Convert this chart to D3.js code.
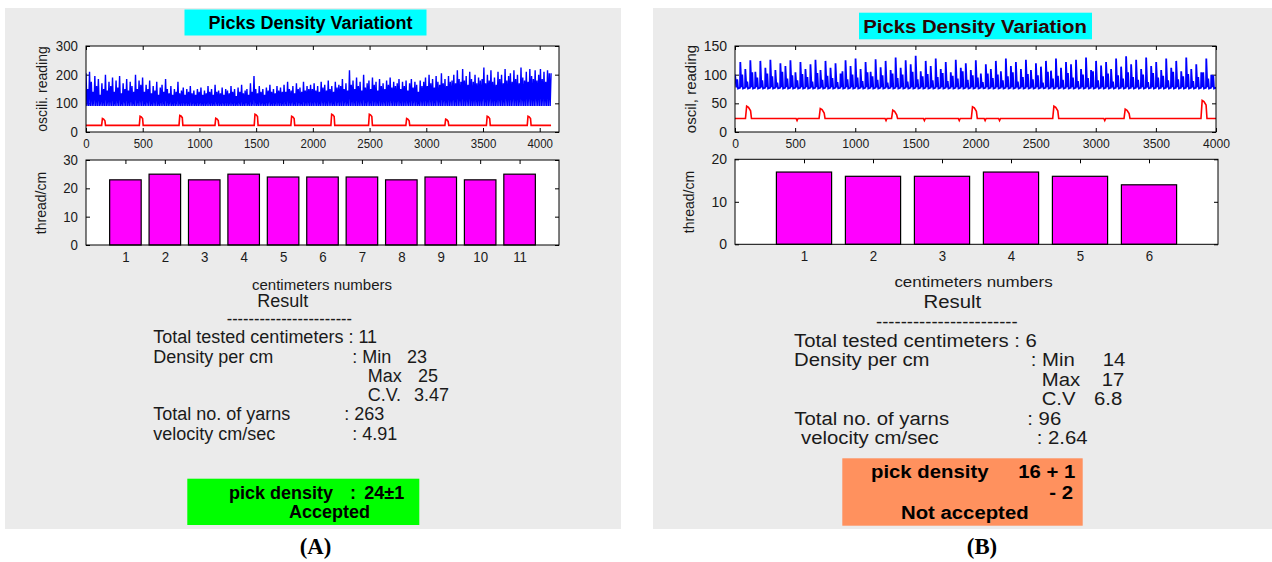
<!DOCTYPE html>
<html>
<head>
<meta charset="utf-8">
<script src="https://cdn.jsdelivr.net/npm/d3@7/dist/d3.min.js"></script>
<style>
  html, body { margin: 0; padding: 0; background: #ffffff; }
  svg { display: block; font-family: "Liberation Sans", Arial, Helvetica, sans-serif; }
</style>
</head>
<body>
<svg id="chart" width="1272" height="562"></svg>
<script>
// ---------------- DATA ----------------
const panelLabels = ["(A)", "(B)"];
const titles = ["Picks Density Variationt", "Picks Density Variation"];

// oscilloscope x ticks
const oscXTicks = [0, 500, 1000, 1500, 2000, 2500, 3000, 3500, 4000];
const oscYTicksA = [0, 100, 200, 300];
const oscYTicksB = [0, 50, 100, 150];
const oscYLabels = ["oscili. reading", "oscil, reading"];

// blue signal (A): peak reading of each yarn pulse (263 yarns)
const bluePeaksA = [
  205,150,210,175,140,195,160,185,130,170,150,200,145,175,160,190,
  140,180,155,195,135,170,150,185,145,175,160,140,200,150,180,165,
  190,140,165,150,180,135,160,145,175,130,155,165,140,185,150,135,
  160,130,150,140,175,135,145,155,130,150,140,160,135,145,130,150,
  140,155,130,145,135,160,140,150,130,165,140,145,135,155,130,150,
  145,135,160,140,150,125,155,140,165,135,145,150,130,170,140,195,
  150,135,160,140,150,130,155,145,165,140,150,135,160,145,155,140,
  165,140,175,150,145,160,135,170,150,155,140,175,145,160,150,165,
  150,170,145,160,140,175,155,165,145,180,150,160,140,175,155,165,
  160,185,150,170,145,215,165,180,150,190,160,175,145,200,155,170,
  180,150,190,165,175,145,185,160,170,150,180,165,190,155,175,160,
  170,185,150,175,160,180,145,170,185,155,175,165,140,180,160,175,
  190,160,200,170,185,155,195,175,165,205,170,185,160,195,175,180,
  200,170,215,185,175,220,180,195,165,210,185,175,200,170,190,180,
  185,225,170,200,180,215,175,190,165,210,185,200,170,220,180,195,
  205,175,215,185,200,170,225,190,180,210,175,220,195,185,215,180,
  200,220,185,210,175,215,205
];
const blueBaseA = 91;
const signalEndA = 4100;

// blue signal (B): main peak and secondary bump of each yarn pulse (96 yarns)
const bluePeaksB = [
  100,122,110,125,105,124,112,126,108,120,115,125,104,122,110,118,
  126,108,124,112,120,102,125,115,128,110,122,105,127,113,124,108,
  130,112,125,118,133,106,124,115,128,110,122,104,126,112,120,108,
  125,102,118,110,124,106,128,115,122,110,126,108,120,114,124,107,
  128,112,122,118,126,110,130,108,124,116,122,110,128,114,132,118,
  126,110,130,115,122,108,128,112,124,106,130,110,118,104,128,100
];
const blueMidB = [
  92,100,88,104,95,90,102,97,86,105,93,99,90,101,96,88,
  103,91,98,94,87,106,92,100,95,89,104,97,91,99,86,102,
  94,100,88,105,92,97,101,90,96,103,89,98,93,106,91,99,
  95,87,102,94,100,90,97,104,88,96,101,92,99,86,105,93,
  98,91,103,95,89,100,94,106,90,97,102,88,99,93,104,96,
  91,100,87,103,95,98,90,105,92,97,101,89,96,104,93,99
];
const blueBaseB = 76;
const signalEndB = 4000;

// red signal: centimetre marker pulses
const redPulseXA = [155, 487, 837, 1154, 1500, 1823, 2176, 2508, 2837, 3181, 3547, 3907];
const redPulseYA = [47, 55, 58, 48, 62, 55, 62, 62, 47, 45, 55, 55];
const redBaseA = 23;
const redPulseXB = [112, 724, 1327, 1990, 2667, 3260, 3900];
const redPulseYB = [45, 41, 38, 44, 45, 40, 55];
const redDipXB = [516, 1256, 1575, 1865, 2080, 2200, 3075];
const redDipYB = [20, 20, 20, 20, 20, 20, 20];
const redBaseB = 23.5;

// bar charts: threads per centimetre
const barCatsA = [1, 2, 3, 4, 5, 6, 7, 8, 9, 10, 11];
const barValsA = [23, 25, 23, 25, 24, 24, 24, 23, 24, 23, 25];
const barYTicksA = [0, 10, 20, 30];
const barCatsB = [1, 2, 3, 4, 5, 6];
const barValsB = [17, 16, 16, 17, 16, 14];
const barYTicksB = [0, 10, 20];
const barYLabel = "thread/cm";
const barXLabel = "centimeters numbers";

// result texts
const resultTitle = "Result";
const statLabels = ["Total tested centimeters", "Density per cm", "Total no. of yarns", "velocity cm/sec"];
const statValuesA = ["11", "23", "25", "3.47", "263", "4.91"];
const statValuesB = ["6", "14", "17", "6.8", "96", "2.64"];
const cvLabels = ["C.V.", "C.V"];
const verdictA = ["pick density", ":", "24\u00b11", "Accepted"];
const verdictB = ["pick density", "16 + 1", "- 2", "Not accepted"];

// ---------------- DRAW ----------------
const svg = d3.select("#chart");
const FONT = '"Liberation Sans", Arial, Helvetica, sans-serif';

function txt(g, x, y, s, o = {}) {
  const t = g.append("text")
    .attr("transform", `translate(${x},${y})${o.rot ? ` rotate(${o.rot})` : ""} scale(${o.sx || 1},1)`)
    .attr("dy", "0.35em")
    .attr("text-anchor", o.anchor || "start")
    .style("font-size", (o.size || 18) + "px")
    .style("font-weight", o.weight || "normal")
    .style("font-family", o.family || FONT)
    .attr("fill", o.fill || "#1a1a1a")
    .text(s);
  if (o.len) t.attr("textLength", o.len).attr("lengthAdjust", "spacingAndGlyphs");
  return t;
}

// frame with inward ticks on all 4 sides
function frame(g, x, y, xTicks, yTicks, opt) {
  const [x0, x1] = x.range();
  const [y0, y1] = y.range(); // y0 bottom, y1 top
  g.append("rect").attr("x", x0).attr("y", y1).attr("width", x1 - x0).attr("height", y0 - y1)
    .attr("fill", "#ffffff");
  const ax = (sel) => {
    sel.select(".domain").remove();
    sel.selectAll(".tick line").attr("stroke", "#000").attr("stroke-width", 1);
  };
  const bx = g.append("g").attr("transform", `translate(0,${y0})`)
    .call(d3.axisBottom(x).tickValues(xTicks).tickSize(-4).tickPadding(opt.xPad || 6).tickFormat(d3.format("d")));
  ax(bx);
  bx.selectAll(".tick text").attr("fill", "#1a1a1a").style("font-size", opt.xFont + "px")
    .style("font-family", FONT).attr("transform", `scale(${opt.xSx},1)`);
  const tx = g.append("g").attr("transform", `translate(0,${y1})`)
    .call(d3.axisTop(x).tickValues(xTicks).tickSize(-4).tickFormat(""));
  ax(tx);
  const ly = g.append("g").attr("transform", `translate(${x0},0)`)
    .call(d3.axisLeft(y).tickValues(yTicks).tickSize(-4).tickPadding(8).tickFormat(d3.format("d")));
  ax(ly);
  ly.selectAll(".tick text").attr("fill", "#1a1a1a").style("font-size", opt.yFont + "px")
    .style("font-family", FONT).attr("x", -8 / opt.ySx).attr("transform", `scale(${opt.ySx},1)`);
  const ry = g.append("g").attr("transform", `translate(${x1},0)`)
    .call(d3.axisRight(y).tickValues(yTicks).tickSize(-4).tickFormat(""));
  ax(ry);
}

function frameBorder(g, x, y) {
  const [x0, x1] = x.range();
  const [y0, y1] = y.range();
  g.append("rect").attr("x", x0).attr("y", y1).attr("width", x1 - x0).attr("height", y0 - y1)
    .attr("fill", "none").attr("stroke", "#000").attr("stroke-width", 1);
}

function pulsePoints(xs, ys, base, end, w, dipX, dipY) {
  const ev = [];
  xs.forEach((px, i) => ev.push({ x: px, kind: "p", v: ys[i] }));
  (dipX || []).forEach((px, i) => ev.push({ x: px, kind: "d", v: dipY[i] }));
  ev.sort((a, b) => a.x - b.x);
  const pts = [[0, base]];
  ev.forEach(e => {
    if (e.kind === "p") {
      pts.push([e.x - w * 0.5, base], [e.x - w * 0.3, e.v], [e.x, e.v - 2], [e.x + w * 0.35, e.v - 8], [e.x + w * 0.5, base]);
    } else {
      pts.push([e.x - 8, base], [e.x, e.v], [e.x + 8, base]);
    }
  });
  pts.push([end, base]);
  return pts;
}

function drawPanel(cfg) {
  const g = svg.append("g");
  // grey panel
  g.append("rect").attr("x", cfg.bg[0]).attr("y", cfg.bg[1]).attr("width", cfg.bg[2] - cfg.bg[0])
    .attr("height", cfg.bg[3] - cfg.bg[1]).attr("fill", "#ebebeb");
  // title box
  g.append("rect").attr("x", cfg.titleBox[0]).attr("y", cfg.titleBox[1])
    .attr("width", cfg.titleBox[2] - cfg.titleBox[0]).attr("height", cfg.titleBox[3] - cfg.titleBox[1])
    .attr("fill", "#00ffff");
  txt(g, cfg.titlePos[0], cfg.titlePos[1], cfg.title,
      { size: 18, weight: "bold", anchor: "middle", sx: cfg.sx, fill: cfg.titleFill });

  // oscilloscope plot
  const xo = d3.scaleLinear().domain([0, cfg.oscXMax]).range(cfg.oscX);
  const yo = d3.scaleLinear().domain([0, cfg.oscYTicks[cfg.oscYTicks.length - 1]]).range(cfg.oscY);
  frame(g, xo, yo, oscXTicks, cfg.oscYTicks, { ...cfg.tick, xPad: 6 });
  g.append("clipPath").attr("id", "clip" + cfg.id)
    .append("rect").attr("x", cfg.oscX[0]).attr("y", cfg.oscY[1])
    .attr("width", cfg.oscX[1] - cfg.oscX[0]).attr("height", cfg.oscY[0] - cfg.oscY[1]);
  const line = d3.line().x(d => xo(d[0])).y(d => yo(d[1]));
  const plotG = g.append("g").attr("clip-path", `url(#clip${cfg.id})`);
  plotG.append("path").attr("d", line(cfg.bluePts)).attr("fill", "none")
    .attr("stroke", "#0000ff").attr("stroke-width", cfg.blueWidth).attr("stroke-linejoin", "miter");
  plotG.append("path").attr("d", line(cfg.redPts)).attr("fill", "none")
    .attr("stroke", "#ff0000").attr("stroke-width", 1.6);
  frameBorder(g, xo, yo);
  txt(g, cfg.oscLabelPos[0], cfg.oscLabelPos[1], cfg.oscYLabel,
      { size: cfg.oscLabelSize, anchor: "middle", rot: -90 });

  // bar plot
  const xb = d3.scaleLinear().domain([0, cfg.barCats.length + 1]).range(cfg.barX);
  const yb = d3.scaleLinear().domain([0, cfg.barYTicks[cfg.barYTicks.length - 1]]).range(cfg.barY);
  frame(g, xb, yb, cfg.barCats, cfg.barYTicks, { ...cfg.tick, xFont: 14, xSx: 0.95, xPad: 7 });
  const bw = xb(0.8) - xb(0);
  g.selectAll(null).data(cfg.barCats).enter().append("rect")
    .attr("x", (d) => xb(d) - bw / 2)
    .attr("y", (d, i) => yb(cfg.barVals[i]))
    .attr("width", bw)
    .attr("height", (d, i) => yb(0) - yb(cfg.barVals[i]))
    .attr("fill", "#ff00ff").attr("stroke", "#000").attr("stroke-width", 1.2);
  frameBorder(g, xb, yb);
  txt(g, cfg.barLabelPos[0], cfg.barLabelPos[1], barYLabel, { size: 14, anchor: "middle", rot: -90 });
  txt(g, cfg.xLabelPos[0], cfg.xLabelPos[1], barXLabel, { size: 15, anchor: "middle", sx: cfg.sx });

  // result texts
  txt(g, cfg.resultPos[0], cfg.resultPos[1], resultTitle, { anchor: "middle", sx: cfg.sx });
  txt(g, cfg.dash[0], cfg.dash[2], "-----------------------",
      { len: cfg.dash[1] - cfg.dash[0] });
  cfg.rows.forEach(r => txt(g, r[0], r[1], r[2], { sx: cfg.sx }));

  // verdict box
  g.append("rect").attr("x", cfg.box[0]).attr("y", cfg.box[1]).attr("width", cfg.box[2] - cfg.box[0])
    .attr("height", cfg.box[3] - cfg.box[1]).attr("fill", cfg.boxFill);
  cfg.verdict.forEach(r => txt(g, r[0], r[1], r[2], { sx: cfg.sx, weight: "bold", fill: "#000" }));

  txt(g, cfg.panelLabelPos[0], cfg.panelLabelPos[1], cfg.panelLabel,
      { size: 24, weight: "bold", anchor: "middle", sx: 0.95, fill: "#000",
        family: '"Liberation Serif", "Times New Roman", serif' });
}

// blue signal vertex lists built from the peak arrays
function bluePointsA() {
  const n = bluePeaksA.length, s = signalEndA / n;
  const pts = [[0, bluePeaksA[0]]];
  bluePeaksA.forEach((p, i) => {
    pts.push([i * s + s * 0.5, blueBaseA]);
    if (i + 1 < n) pts.push([(i + 1) * s, bluePeaksA[i + 1]]);
  });
  pts.push([signalEndA, bluePeaksA[n - 1]]);
  return pts;
}
function bluePointsB() {
  const n = bluePeaksB.length, s = signalEndB / n;
  const pts = [[0, bluePeaksB[0]]];
  bluePeaksB.forEach((p, i) => {
    const x0 = i * s;
    if (i > 0) pts.push([x0, blueBaseB], [x0 + s * 0.06, p]);
    pts.push([x0 + s * 0.28, blueBaseB + 2], [x0 + s * 0.45, blueMidB[i]],
             [x0 + s * 0.6, blueBaseB], [x0 + s * 0.95, blueBaseB + 1]);
  });
  pts.push([signalEndB, blueBaseB]);
  return pts;
}

const sA = statValuesA, sB = statValuesB;
drawPanel({
  id: "A", sx: 1, tick: { xFont: 13.5, xSx: 0.85, yFont: 14, ySx: 0.95 },
  bg: [5, 8, 621, 529],
  titleBox: [184.5, 9.5, 426.5, 35.5], titlePos: [310.5, 22.7], title: titles[0], titleFill: "#000",
  oscXMax: 4170, oscX: [86, 559], oscY: [132, 46], oscYTicks: oscYTicksA,
  oscYLabel: oscYLabels[0], oscLabelPos: [42, 89], oscLabelSize: 14,
  bluePts: bluePointsA(), blueWidth: 1.4,
  redPts: pulsePoints(redPulseXA, redPulseYA, redBaseA, signalEndA, 34),
  barCats: barCatsA, barVals: barValsA, barYTicks: barYTicksA,
  barX: [86, 559], barY: [245, 160], barLabelPos: [41, 203],
  xLabelPos: [322, 284.5], resultPos: [282.7, 301],
  dash: [226.7, 352, 319],
  rows: [
    [153.3, 337, statLabels[0] + " : " + sA[0]],
    [153.3, 356.7, statLabels[1]], [352.3, 356.7, ": Min"], [407, 356.7, sA[1]],
    [367.7, 376, "Max"], [418, 376, sA[2]],
    [367.7, 395, cvLabels[0]], [414, 395, sA[3]],
    [153.3, 414, statLabels[2]], [344.3, 414, ": " + sA[4]],
    [153.3, 434, statLabels[3]], [352.3, 434, ": " + sA[5]]
  ],
  box: [187.3, 478.7, 419.3, 525], boxFill: "#00ff00",
  verdict: [[229, 492.3, verdictA[0]], [350, 492.3, verdictA[1]], [364.3, 492.3, verdictA[2]],
            [289, 511.7, verdictA[3]]],
  panelLabel: panelLabels[0], panelLabelPos: [315.5, 546]
});

drawPanel({
  id: "B", sx: 1.13, tick: { xFont: 13.5, xSx: 0.9, yFont: 14, ySx: 1 },
  bg: [653, 8, 1272, 529],
  titleBox: [859, 12.7, 1092, 39.3], titlePos: [975, 26.7], title: titles[1], titleFill: "#2a0505",
  oscXMax: 4000, oscX: [735, 1216], oscY: [132, 46], oscYTicks: oscYTicksB,
  oscYLabel: oscYLabels[1], oscLabelPos: [691, 89], oscLabelSize: 15,
  bluePts: bluePointsB(), blueWidth: 1.8,
  redPts: pulsePoints(redPulseXB, redPulseYB, redBaseB, signalEndB, 50, redDipXB, redDipYB),
  barCats: barCatsB, barVals: barValsB, barYTicks: barYTicksB,
  barX: [735, 1218], barY: [244.3, 159.3], barLabelPos: [689, 202],
  xLabelPos: [973.5, 281.7], resultPos: [952.3, 301.7],
  dash: [876, 1017.7, 322],
  rows: [
    [794, 340.7, statLabels[0] + " : " + sB[0]],
    [794, 360, statLabels[1]], [1030.7, 360, ": Min"], [1102.7, 360, sB[1]],
    [1041.7, 379.3, "Max"], [1101.7, 379.3, sB[2]],
    [1041.7, 399, cvLabels[1]], [1094, 399, sB[3]],
    [794.3, 418.3, statLabels[2]], [1027.3, 418.3, ": " + sB[4]],
    [801, 437.7, statLabels[3]], [1036.7, 437.7, ": " + sB[5]]
  ],
  box: [842.3, 458.3, 1082.7, 525.7], boxFill: "#ff915e",
  verdict: [[871, 471.7, verdictB[0]], [1018.3, 471.7, verdictB[1]], [1049.3, 492.3, verdictB[2]],
            [901, 512.3, verdictB[3]]],
  panelLabel: panelLabels[1], panelLabelPos: [982, 546]
});
</script>
</body>
</html>
